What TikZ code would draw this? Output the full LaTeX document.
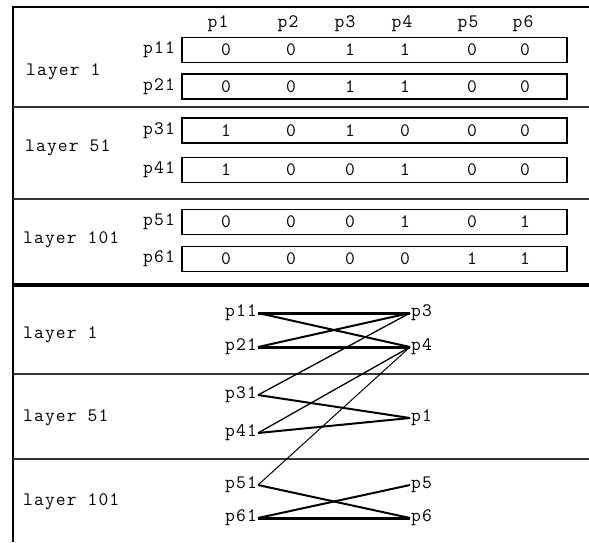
\documentclass[tikz,border=0pt]{standalone}
\usepackage{fontspec}
\setmonofont{Latin Modern Mono}[LetterSpace=6]
\begin{document}
\begin{tikzpicture}[x=1pt,y=-1pt,
    every node/.style={font=\ttfamily\fontsize{19}{19}\selectfont, inner sep=1pt},
    rowbox/.style={draw=black, line width=1.2pt, minimum width=385pt, minimum height=25pt, inner sep=0pt},
    sep/.style={line width=1.2pt, black!80},
    heavy/.style={line width=3pt},
    medium/.style={line width=2pt},
    light/.style={line width=1.3pt}]
    \useasboundingbox (0,0) rectangle (589,542);

    % frame and layer separators
    \draw[line width=1.2pt] (13,542) -- (13,7) -- (589,7);
    \draw[sep] (13,107) -- (589,107);
    \draw[sep] (13,199) -- (589,199);
    \draw[line width=3.5pt] (13,285) -- (589,285);
    \draw[sep] (13,374) -- (589,374);
    \draw[sep] (13,459) -- (589,459);

    % upper half: matrix of patterns
    \node (H1) at (218,24) {p1};
    \node (H2) at (288,24) {p2};
    \node (H3) at (345,24) {p3};
    \node (H4) at (402,24) {p4};
    \node (H5) at (468,24) {p5};
    \node (H6) at (523,24) {p6};

    \node[anchor=west] (LA1)   at (25,72)  {layer 1};
    \node[anchor=west] (LA51)  at (24,148) {layer 51};
    \node[anchor=west] (LA101) at (22,240) {layer 101};

    \foreach \r/\y/\a/\b/\c/\d/\e/\f in {11/50/0/0/1/1/0/0, 21/86.5/0/0/1/1/0/0,
            31/130.5/1/0/1/0/0/0, 41/170/1/0/0/1/0/0,
            51/222/0/0/0/1/0/1, 61/259/0/0/0/0/1/1} {
        \node[anchor=east] (P\r) at (176,\y) {p\r};
        \node[rowbox] (R\r) at (374.5,\y) {};
        \node (V\r a) at (226,\y) {\a};
        \node (V\r b) at (291,\y) {\b};
        \node (V\r c) at (350,\y) {\c};
        \node (V\r d) at (405,\y) {\d};
        \node (V\r e) at (472,\y) {\e};
        \node (V\r f) at (525,\y) {\f};
    }

    % lower half: pattern to position links
    \node[anchor=west] (LB1)   at (22,335) {layer 1};
    \node[anchor=west] (LB51)  at (22,418) {layer 51};
    \node[anchor=west] (LB101) at (22,502) {layer 101};

    \node[anchor=east] (G11) at (258,313) {p11};
    \node[anchor=east] (G21) at (258,347) {p21};
    \node[anchor=east] (G31) at (258,395) {p31};
    \node[anchor=east] (G41) at (258,433) {p41};
    \node[anchor=east] (G51) at (258,485) {p51};
    \node[anchor=east] (G61) at (258,518) {p61};

    \node[anchor=west] (G3) at (410,313) {p3};
    \node[anchor=west] (G4) at (410,347) {p4};
    \node[anchor=west] (G1) at (410,418) {p1};
    \node[anchor=west] (G5) at (410,485) {p5};
    \node[anchor=west] (G6) at (410,518) {p6};

    \draw[heavy]  (G11.east) -- (G3.west);
    \draw[medium] (G11.east) -- (G4.west);
    \draw[medium] (G21.east) -- (G3.west);
    \draw[heavy]  (G21.east) -- (G4.west);
    \draw[light]  (G31.east) -- (G3.west);
    \draw[medium] (G31.east) -- (G1.west);
    \draw[light]  (G41.east) -- (G4.west);
    \draw[medium] (G41.east) -- (G1.west);
    \draw[line width=1pt] (G51.east) -- (G4.west);
    \draw[medium] (G51.east) -- (G6.west);
    \draw[medium] (G61.east) -- (G5.west);
    \draw[heavy]  (G61.east) -- (G6.west);
\end{tikzpicture}
\end{document}
